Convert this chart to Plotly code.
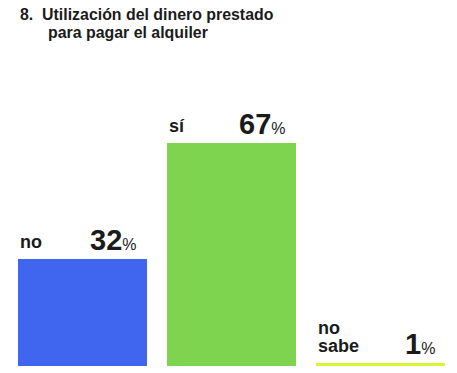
import plotly.graph_objects as go

# ---- data ----
categories = ["no", "sí", "no sabe"]
label_lines = [["no"], ["sí"], ["no", "sabe"]]
values = [32, 67, 1]
title_lines = ["8.  Utilización del dinero prestado", "para pagar el alquiler"]

# ---- style ----
colors = ["#4066EF", "#7ED34F", "#D6F53B"]
FONT = "Liberation Sans, Arial, Helvetica, sans-serif"
TXT = "#1b1b1b"
OFF = 8                      # default page margin of the browser
W, H = 457 - OFF, 373 - OFF  # figure size
T, B = 33 - OFF, 7
PH = H - T - B
bar_w = 0.866
cx0, step = 82.5 - OFF, 149


def py(px_from_top):
    return (H - B - px_from_top) / PH


def pxx(px):
    return px / W


fig = go.Figure()
fig.add_trace(go.Bar(
    x=list(range(len(categories))), y=values,
    marker=dict(color=colors, line=dict(width=0)),
    width=bar_w, hoverinfo="skip", showlegend=False,
))

ann = []
for i, (lines, v) in enumerate(zip(label_lines, values)):
    for k, line in enumerate(reversed(lines)):
        ann.append(dict(
            x=i - bar_w / 2, y=v, xref="x", yref="y",
            text=line, showarrow=False, xanchor="left", yanchor="bottom",
            yshift=5 + k * 18,
            font=dict(family=FONT, size=18, color=TXT, weight="bold"),
        ))
    ann.append(dict(
        x=i + bar_w / 2, y=v, xref="x", yref="y",
        text=f"{v}<span style='font-size:16px;font-weight:normal'>%</span>",
        showarrow=False, xanchor="right", yanchor="bottom",
        xshift=-8, yshift=1,
        font=dict(family=FONT, size=29, color=TXT, weight="bold"),
    ))

ann.append(dict(x=pxx(18 - OFF), y=py(25 - OFF), xref="paper", yref="paper",
                text=title_lines[0], showarrow=False, xanchor="left", yanchor="bottom",
                font=dict(family=FONT, size=15.9, color=TXT, weight="bold")))
ann.append(dict(x=pxx(46 - OFF), y=py(43 - OFF), xref="paper", yref="paper",
                text=title_lines[1], showarrow=False, xanchor="left", yanchor="bottom",
                font=dict(family=FONT, size=15.9, color=TXT, weight="bold")))

fig.update_layout(
    width=W, height=H,
    margin=dict(l=0, r=0, t=T, b=B, pad=0),
    paper_bgcolor="white", plot_bgcolor="white",
    bargap=0,
    xaxis=dict(range=[-cx0 / step, (W - cx0) / step], visible=False, fixedrange=True),
    yaxis=dict(range=[0, 100], visible=False, fixedrange=True),
    annotations=ann,
)

fig.write_html("out.html", config={"displayModeBar": False})
